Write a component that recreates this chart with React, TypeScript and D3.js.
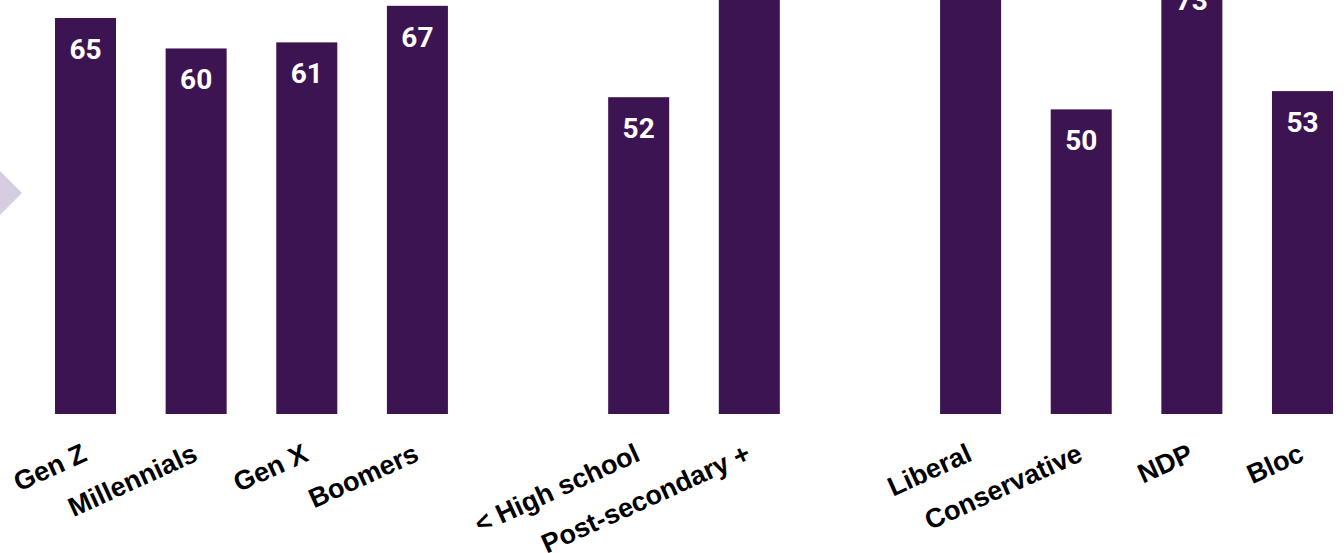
import React from "react";
import * as d3 from "d3";

const categories = ["Gen Z", "Millennials", "Gen X", "Boomers", "", "< High school", "Post-secondary +", " ", "Liberal", "Conservative", "NDP", "Bloc"];
const values: (number | null)[] = [65, 60, 61, 67, null, 52, 76, null, 78, 50, 73, 53];

const W = 1344;
const H = 553;

export default function App() {
  const x = d3.scaleBand<string>().domain(categories).range([55, 1333]).paddingInner(0.4485).paddingOuter(0);
  const y = d3.scaleLinear().domain([0, 65]).range([414, 18]);
  const bw = x.bandwidth();
  return (
    <svg width={W} height={H} style={{ position: "fixed", left: 0, top: 0, background: "#fff" }}>
      <polygon points="0,171 22,193 0,215" fill="#d6cee0" />
      {categories.map((c, i) => {
        const v = values[i];
        if (v == null) return null;
        const x0 = x(c)!;
        const cx = x0 + bw / 2;
        return (
          <g key={c}>
            <rect x={x0} y={y(v)} width={bw} height={y(0) - y(v)} fill="#3d1452" />
            <text x={cx} y={y(v) + 41} textAnchor="middle" fill="#fff" fontFamily="Roboto" fontWeight="bold" fontSize={28}>
              {v}
            </text>
            <text
              transform={`translate(${cx + 3},460) rotate(-24.5)`}
              textAnchor="end"
              fill="#000"
              fontFamily="Liberation Sans, Arial"
              fontWeight="bold"
              fontSize={27}
            >
              {c.trim()}
            </text>
          </g>
        );
      })}
    </svg>
  );
}
